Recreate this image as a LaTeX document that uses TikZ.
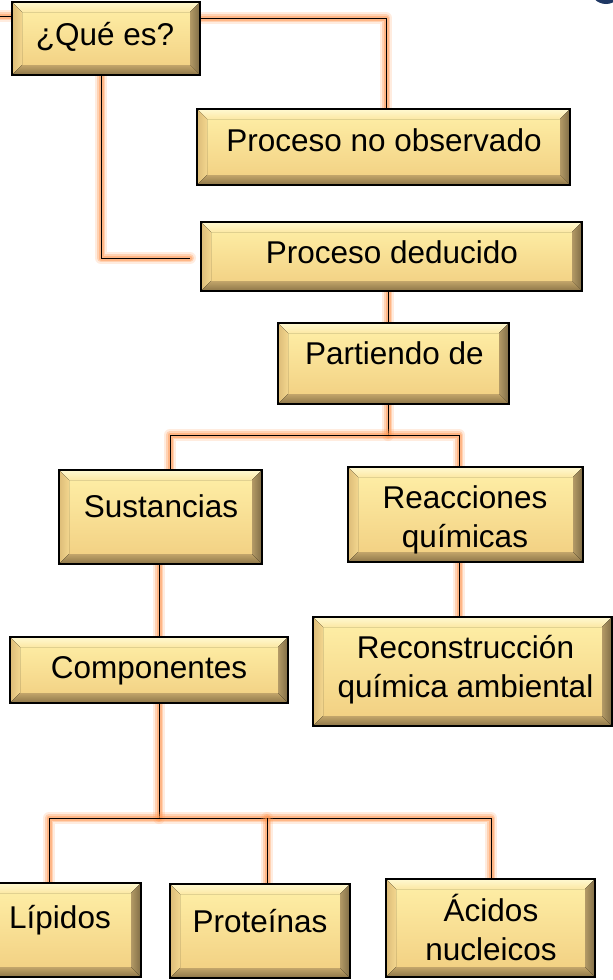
\documentclass[tikz,border=0pt]{standalone}
\usepackage{fontspec}
\setmainfont{Liberation Sans}
\usetikzlibrary{calc,backgrounds}
\definecolor{faceT}{HTML}{FFF0A8}
\definecolor{faceB}{HTML}{F1CE80}
\definecolor{bevTop1}{HTML}{FFF9D2}
\definecolor{bevTop2}{HTML}{FCE8A4}
\definecolor{bevL1}{HTML}{DDBC78}
\definecolor{bevL2}{HTML}{F2D68E}
\definecolor{bevR1}{HTML}{B39A66}
\definecolor{bevR2}{HTML}{7F6C45}
\definecolor{bevB1}{HTML}{C2A56A}
\definecolor{bevB2}{HTML}{8C7548}
\definecolor{glowc}{HTML}{FF9650}
\definecolor{navy}{HTML}{1F3864}
\tikzset{
  bevbox/.style={rectangle, draw=black, line width=2pt, inner sep=0pt,
    top color=faceT, bottom color=faceB,
    path picture={
      \path (path picture bounding box.north west) coordinate (pNW)
            (path picture bounding box.north east) coordinate (pNE)
            (path picture bounding box.south west) coordinate (pSW)
            (path picture bounding box.south east) coordinate (pSE);
      \path ([shift={(10pt,-10pt)}]pNW) coordinate (iNW)
            ([shift={(-10pt,-10pt)}]pNE) coordinate (iNE)
            ([shift={(10pt,10pt)}]pSW) coordinate (iSW)
            ([shift={(-10pt,10pt)}]pSE) coordinate (iSE);
      \fill[top color=bevTop1, bottom color=bevTop2] (pNW) -- (pNE) -- (iNE) -- (iNW) -- cycle;
      \fill[left color=bevL1, right color=bevL2] (pNW) -- (iNW) -- (iSW) -- (pSW) -- cycle;
      \fill[left color=bevR1, right color=bevR2] (pNE) -- (pSE) -- (iSE) -- (iNE) -- cycle;
      \fill[top color=bevB1, bottom color=bevB2] (pSW) -- (iSW) -- (iSE) -- (pSE) -- cycle;
    }},
  txt/.style={inner sep=0pt, font=\fontsize{31.5}{39}\selectfont, align=center, anchor=base},
  conn/.style={draw=black, line width=0.9pt, line join=miter,
    preaction={draw=glowc, line width=12pt, opacity=0.18, line cap=round, line join=round},
    preaction={draw=glowc, line width=8pt, opacity=0.3, line cap=round, line join=round},
    preaction={draw=glowc, line width=5pt, opacity=0.45, line cap=round, line join=round}}
}
\begin{document}
\begin{tikzpicture}[x=1pt,y=-1pt]
\useasboundingbox (0,0) rectangle (613,980);

% coordinates for connector routing
\coordinate (qL) at (0,16);
\coordinate (k1) at (386,18);
\coordinate (k2) at (101,258);
\coordinate (k2e) at (190,258);
\coordinate (k3) at (388,435);
\coordinate (hL) at (170,435);
\coordinate (hR) at (459,435);
\coordinate (k4) at (159,818);
\coordinate (bL) at (49,818);
\coordinate (bM) at (267,818);
\coordinate (bR) at (491,818);

% boxes
\begin{scope}[every node/.style={bevbox}]
\path node[minimum width=188pt, minimum height=73pt] (q) at (106,38.5) {}
      node[minimum width=373pt, minimum height=76pt] (pno) at (383.5,147) {}
      node[minimum width=381pt, minimum height=69pt] (pd) at (391.5,256.5) {}
      node[minimum width=231pt, minimum height=81pt] (pa) at (393.5,363.5) {}
      node[minimum width=203pt, minimum height=94pt] (sus) at (160.5,517) {}
      node[minimum width=235pt, minimum height=95pt] (rq) at (465.5,514.5) {}
      node[minimum width=278pt, minimum height=66pt] (comp) at (149,670) {}
      node[minimum width=299pt, minimum height=109pt] (rec) at (462.5,671.5) {}
      node[minimum width=162pt, minimum height=94pt] (lip) at (60,930) {}
      node[minimum width=180pt, minimum height=94pt] (pro) at (260,931) {}
      node[minimum width=209pt, minimum height=98pt] (aci) at (490.5,928) {};
\end{scope}

% texts (base anchor = baseline of the last line)
\node[txt] (tq)   at (105,45)    {¿Qué es?};
\node[txt] (tpno) at (384,151)   {Proceso no observado};
\node[txt] (tpd)  at (392,263)   {Proceso deducido};
\node[txt] (tpa)  at (394.5,364) {Partiendo de};
\node[txt] (tsus) at (161,517)   {Sustancias};
\node[txt] (trq)  at (465,547)   {Reacciones\\químicas};
\node[txt] (tcomp) at (149,678)  {Componentes};
\node[txt] (trec) at (465.5,697) {Reconstrucción\\química ambiental};
\node[txt] (tlip) at (60,928)    {Lípidos};
\node[txt] (tpro) at (260,932)   {Proteínas};
\node[txt] (taci) at (491,960)   {Ácidos\\nucleicos};

% background: page, corner mark, connectors
\begin{scope}[on background layer]
\fill[white] (0,0) rectangle (613,980);
\fill[navy] (606,-12) circle (16);
\path[conn] (qL) -- (qL -| q.west);
\path[conn] (k1 -| q.east) -- (k1) -- (k1 |- pno.north);
\path[conn] (k2 |- q.south) -- (k2) -- (k2e);
\path[conn] (k3 |- pd.south) -- (k3 |- pa.north);
\path[conn] (k3 |- pa.south) -- (k3);
\path[conn] (hL |- sus.north) -- (hL) -- (hR) -- (hR |- rq.north);
\path[conn] (k4 |- sus.south) -- (k4 |- comp.north);
\path[conn] (hR |- rq.south) -- (hR |- rec.north);
\path[conn] (k4 |- comp.south) -- (k4);
\path[conn] (bL |- lip.north) -- (bL) -- (bR) -- (bR |- aci.north);
\path[conn] (bM) -- (bM |- pro.north);
\end{scope}
\end{tikzpicture}
\end{document}
